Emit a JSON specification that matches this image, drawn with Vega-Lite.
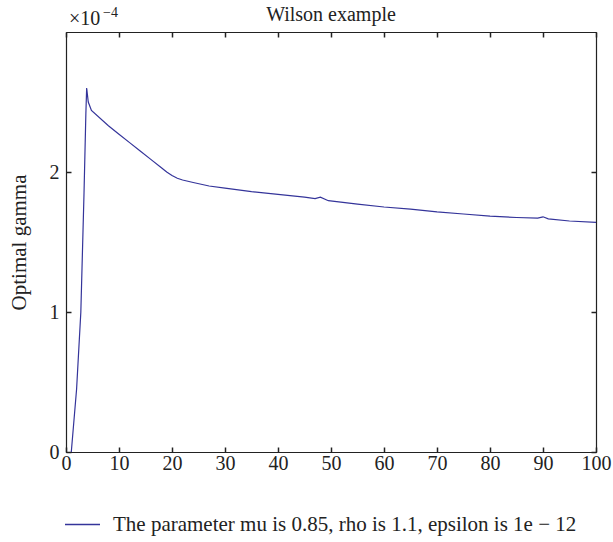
{
  "$schema": "https://vega.github.io/schema/vega-lite/v6.json",
  "width": 530,
  "height": 420,
  "autosize": {"type": "none"},
  "padding": {"left": 66, "top": 32, "right": 17, "bottom": 90},
  "background": "white",
  "title": {"text": "Wilson example", "fontSize": 20, "font": "Liberation Serif", "fontWeight": "normal", "color": "#222", "offset": 6, "dy": 25},
  "data": {"values": [
    {"x": 1, "gamma": 0.0},
    {"x": 2, "gamma": 0.000045},
    {"x": 2.8, "gamma": 0.0001},
    {"x": 3.4, "gamma": 0.000185},
    {"x": 3.75, "gamma": 0.000242},
    {"x": 3.9, "gamma": 0.00026},
    {"x": 4.2, "gamma": 0.00025},
    {"x": 4.8, "gamma": 0.000244},
    {"x": 8, "gamma": 0.000233},
    {"x": 10, "gamma": 0.000227},
    {"x": 12, "gamma": 0.000221},
    {"x": 14, "gamma": 0.000215},
    {"x": 16, "gamma": 0.000209},
    {"x": 18, "gamma": 0.000203},
    {"x": 19, "gamma": 0.0002},
    {"x": 20, "gamma": 0.0001975},
    {"x": 21, "gamma": 0.0001955},
    {"x": 22, "gamma": 0.0001943},
    {"x": 24, "gamma": 0.0001925},
    {"x": 27, "gamma": 0.00019},
    {"x": 30, "gamma": 0.0001885},
    {"x": 35, "gamma": 0.000186},
    {"x": 40, "gamma": 0.000184},
    {"x": 45, "gamma": 0.000182},
    {"x": 47, "gamma": 0.000181},
    {"x": 48, "gamma": 0.000182},
    {"x": 49.5, "gamma": 0.0001795},
    {"x": 55, "gamma": 0.000177},
    {"x": 60, "gamma": 0.000175},
    {"x": 65, "gamma": 0.0001735},
    {"x": 70, "gamma": 0.0001715},
    {"x": 75, "gamma": 0.00017},
    {"x": 80, "gamma": 0.0001685},
    {"x": 85, "gamma": 0.0001675},
    {"x": 89, "gamma": 0.000167},
    {"x": 90, "gamma": 0.000168},
    {"x": 91, "gamma": 0.0001665},
    {"x": 95, "gamma": 0.000165},
    {"x": 100, "gamma": 0.000164}
  ]},
  "layer": [
    {
      "mark": {"type": "line", "strokeWidth": 1.2},
      "encoding": {
        "x": {"field": "x", "type": "quantitative", "scale": {"domain": [0, 100], "nice": false},
              "axis": {"orient": "bottom", "values": [0,10,20,30,40,50,60,70,80,90,100], "title": null, "tickSize": -5, "labelPadding": 6, "labelFlush": false}},
        "y": {"field": "gamma", "type": "quantitative", "scale": {"domain": [0, 0.0003], "nice": false},
              "axis": {"orient": "left", "values": [0, 0.0001, 0.0002], "labelExpr": "format(round(datum.value*10000), 'd')", "title": "Optimal gamma", "titleFontSize": 21, "tickSize": -5, "labelPadding": 12, "titlePadding": 20, "labelFlush": false}},
        "color": {"datum": "The parameter mu is 0.85, rho is 1.1, epsilon is 1e − 12", "type": "nominal",
                  "scale": {"range": ["#34349a"]},
                  "legend": {"title": null, "orient": "none", "legendX": -2, "legendY": 474, "symbolType": "stroke", "symbolSize": 1225, "symbolStrokeWidth": 1.5, "labelOffset": 12, "labelFontSize": 21, "labelFont": "Liberation Serif", "labelColor": "#222", "labelLimit": 0}}
      }
    },
    {
      "mark": {"type": "line", "opacity": 0},
      "encoding": {
        "x": {"field": "x", "type": "quantitative", "axis": {"orient": "top", "values": [0,10,20,30,40,50,60,70,80,90,100], "labels": false, "title": null, "tickSize": -5}},
        "y": {"field": "gamma", "type": "quantitative", "axis": {"orient": "right", "values": [0, 0.0001, 0.0002], "labels": false, "title": null, "tickSize": -5}}
      }
    },
    {
      "data": {"values": [{"x": 0, "gamma": 0.0003, "label": "×10"}]},
      "mark": {"type": "text", "align": "left", "baseline": "alphabetic", "dx": 3, "dy": -7, "fontSize": 20, "font": "Liberation Serif", "color": "#222"},
      "encoding": {"x": {"field": "x", "type": "quantitative", "axis": null}, "y": {"field": "gamma", "type": "quantitative", "axis": null}, "text": {"field": "label"}}
    },
    {
      "data": {"values": [{"x": 0, "gamma": 0.0003, "label": "−4"}]},
      "mark": {"type": "text", "align": "left", "baseline": "alphabetic", "dx": 37, "dy": -15, "fontSize": 14, "font": "Liberation Serif", "color": "#222"},
      "encoding": {"x": {"field": "x", "type": "quantitative", "axis": null}, "y": {"field": "gamma", "type": "quantitative", "axis": null}, "text": {"field": "label"}}
    }
  ],
  "resolve": {"axis": {"x": "independent", "y": "independent"}},
  "config": {
    "font": "Liberation Serif",
    "view": {"stroke": "#555"},
    "axis": {"grid": false, "domainColor": "#222", "tickColor": "#222", "labelColor": "#222", "labelFontSize": 20, "labelFont": "Liberation Serif", "titleFont": "Liberation Serif", "titleFontSize": 20, "titleFontWeight": "normal", "titleColor": "#222", "domainWidth": 1.2, "tickWidth": 1.5}
  }
}
